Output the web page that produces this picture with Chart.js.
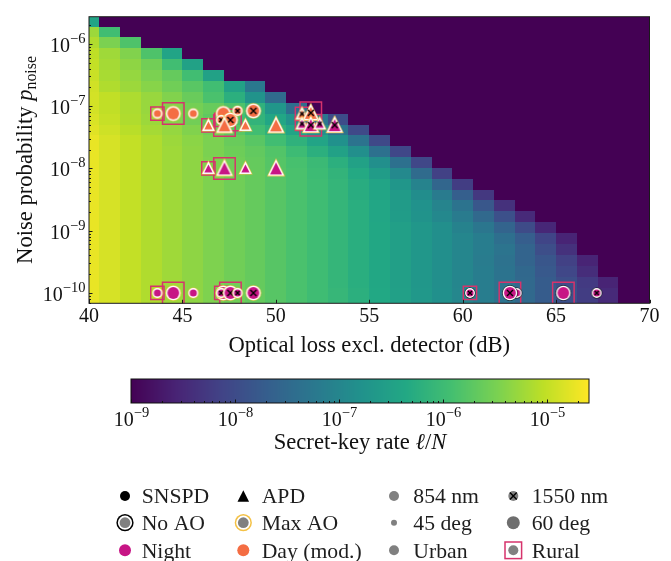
<!DOCTYPE html>
<html>
<head>
<meta charset="utf-8">
<title>Secret-key rate map</title>
<script src="https://cdn.jsdelivr.net/npm/chart.js"></script>
<style>
  html, body { margin: 0; padding: 0; background: #fff; }
  body { position: relative; width: 671px; height: 561px; overflow: hidden; }
  #mapChart { position: absolute; left: 0; top: 0; }
  #barChart { position: absolute; left: 0; top: 362px; }
</style>
</head>
<body>
<canvas id="mapChart" width="671" height="362"></canvas>
<canvas id="barChart" width="671" height="199"></canvas>
<script>
const SERIF = '"Liberation Serif", "Times New Roman", "DejaVu Serif", serif';
const NIGHT = '#c71585';
const DAY = '#f46d43';
const GOLD = '#f4c145';
const GREY = '#808080';
const RURAL = '#d6336c';
const INK = '#111';

// grid of the simulated map: column centres (dB) and row centres (log10 p_noise)
const lossDb = [40.00, 41.11, 42.22, 43.33, 44.44, 45.56, 46.67, 47.78, 48.89, 50.00,
  51.11, 52.22, 53.33, 54.44, 55.56, 56.67, 57.78, 58.89, 60.00, 61.11,
  62.22, 63.33, 64.44, 65.56, 66.67, 67.78, 68.89, 70.00];
const noiseLog = [-10.00, -9.83, -9.65, -9.48, -9.30, -9.13, -8.95, -8.78, -8.60, -8.43,
  -8.25, -8.08, -7.91, -7.73, -7.56, -7.38, -7.21, -7.03, -6.86, -6.68,
  -6.51, -6.33, -6.16, -5.98, -5.81, -5.64];

// log10 of the secret-key rate, one row per noise level (lowest noise first);
// cells past the end of a row give no key
const keyRateLog = [
  [-4.73, -4.86, -4.99, -5.12, -5.23, -5.34, -5.45, -5.56, -5.65, -5.76, -5.87, -5.98, -6.09, -6.22, -6.36, -6.51, -6.66, -6.82, -6.97, -7.15, -7.33, -7.50, -7.72, -7.94, -8.21, -8.47],
  [-4.73, -4.86, -4.99, -5.12, -5.23, -5.34, -5.45, -5.56, -5.65, -5.76, -5.87, -5.98, -6.11, -6.25, -6.38, -6.53, -6.69, -6.84, -6.99, -7.15, -7.33, -7.50, -7.72, -7.96, -8.25, -8.56],
  [-4.73, -4.86, -4.99, -5.12, -5.23, -5.34, -5.45, -5.56, -5.65, -5.76, -5.87, -5.98, -6.11, -6.25, -6.38, -6.53, -6.69, -6.84, -6.99, -7.15, -7.33, -7.52, -7.77, -8.07, -8.43],
  [-4.73, -4.86, -4.99, -5.12, -5.23, -5.34, -5.45, -5.56, -5.65, -5.76, -5.87, -5.98, -6.11, -6.25, -6.38, -6.53, -6.69, -6.84, -6.99, -7.17, -7.35, -7.59, -7.83, -8.16, -8.56],
  [-4.73, -4.86, -4.99, -5.12, -5.23, -5.34, -5.45, -5.56, -5.65, -5.76, -5.87, -5.98, -6.11, -6.25, -6.38, -6.53, -6.69, -6.84, -6.99, -7.15, -7.30, -7.59, -7.96, -8.38],
  [-4.73, -4.86, -4.99, -5.12, -5.23, -5.34, -5.45, -5.56, -5.65, -5.76, -5.87, -5.98, -6.11, -6.25, -6.38, -6.53, -6.69, -6.84, -6.99, -7.15, -7.39, -7.70, -8.10, -8.56],
  [-4.73, -4.86, -4.99, -5.12, -5.23, -5.34, -5.45, -5.56, -5.65, -5.76, -5.87, -5.98, -6.11, -6.25, -6.38, -6.53, -6.69, -6.84, -7.06, -7.28, -7.59, -8.01, -8.52],
  [-4.73, -4.86, -4.99, -5.12, -5.23, -5.34, -5.45, -5.56, -5.65, -5.76, -5.87, -5.98, -6.11, -6.25, -6.40, -6.58, -6.75, -6.95, -7.19, -7.50, -7.92, -8.47],
  [-4.73, -4.86, -4.99, -5.12, -5.23, -5.34, -5.45, -5.56, -5.65, -5.76, -5.87, -5.98, -6.11, -6.25, -6.40, -6.60, -6.77, -7.02, -7.33, -7.81, -8.38],
  [-4.73, -4.86, -4.99, -5.12, -5.23, -5.34, -5.45, -5.56, -5.65, -5.76, -5.87, -5.98, -6.11, -6.27, -6.42, -6.60, -6.86, -7.19, -7.68, -8.29],
  [-4.73, -4.86, -4.99, -5.12, -5.23, -5.34, -5.45, -5.56, -5.65, -5.76, -5.87, -5.98, -6.11, -6.27, -6.44, -6.71, -7.04, -7.55, -8.21],
  [-4.73, -4.86, -4.99, -5.12, -5.23, -5.34, -5.45, -5.56, -5.65, -5.76, -5.87, -6.00, -6.14, -6.33, -6.58, -6.93, -7.46, -8.16],
  [-4.73, -4.86, -4.99, -5.12, -5.23, -5.34, -5.45, -5.56, -5.65, -5.78, -5.89, -6.03, -6.22, -6.49, -6.84, -7.37, -8.07],
  [-4.73, -4.86, -4.99, -5.12, -5.23, -5.34, -5.47, -5.58, -5.67, -5.80, -6.00, -6.22, -6.49, -6.84, -7.37, -8.07],
  [-4.73, -4.86, -4.99, -5.12, -5.25, -5.36, -5.47, -5.61, -5.74, -5.96, -6.18, -6.44, -6.80, -7.33, -8.03],
  [-4.79, -4.92, -5.06, -5.19, -5.30, -5.43, -5.56, -5.74, -5.96, -6.18, -6.44, -6.80, -7.33, -8.03],
  [-4.84, -4.97, -5.12, -5.25, -5.41, -5.54, -5.69, -5.92, -6.14, -6.40, -6.75, -7.28, -7.99],
  [-4.88, -5.01, -5.14, -5.28, -5.41, -5.52, -5.63, -5.83, -6.18, -6.71, -7.41],
  [-4.88, -5.01, -5.14, -5.28, -5.43, -5.61, -5.87, -6.22, -6.75, -7.46],
  [-4.90, -5.12, -5.25, -5.39, -5.56, -5.74, -5.96, -6.49, -7.24],
  [-4.95, -5.17, -5.30, -5.47, -5.65, -5.96, -6.49],
  [-4.99, -5.19, -5.34, -5.54, -5.96, -6.49],
  [-5.03, -5.23, -5.43, -5.83, -6.44],
  [-5.12, -5.47, -5.83],
  [-5.25, -5.96],
  [-6.44]
];
const rateRange = [1e-9, 2.55e-5];

// link scenarios (drawing order: later ones sit on top)
const scLoss = [43.66, 44.51, 45.58, 47.19, 47.08, 47.57, 47.95, 48.80,
  43.66, 44.51, 45.58, 47.19, 47.08, 47.57, 47.95, 48.80,
  60.39, 62.89, 62.53, 65.39, 67.17,
  46.39, 47.25, 48.37, 50.01, 51.40, 51.87,
  46.39, 47.25, 48.37, 50.01, 51.40, 51.87, 52.35, 53.15];
const scNoise = [7.6e-8, 7.6e-8, 7.6e-8, 7.6e-8, 6.0e-8, 6.0e-8, 8.4e-8, 8.4e-8,
  1e-10, 1e-10, 1e-10, 1e-10, 1e-10, 1e-10, 1e-10, 1e-10,
  1e-10, 1e-10, 1e-10, 1e-10, 1e-10,
  4.9e-8, 4.9e-8, 4.9e-8, 4.9e-8, 7.5e-8, 7.8e-8,
  1e-8, 1e-8, 1e-8, 1e-8, 5.2e-8, 4.95e-8, 5.2e-8, 4.95e-8];
const scDetector = ['SNSPD', 'SNSPD', 'SNSPD', 'SNSPD', 'SNSPD', 'SNSPD', 'SNSPD', 'SNSPD',
  'SNSPD', 'SNSPD', 'SNSPD', 'SNSPD', 'SNSPD', 'SNSPD', 'SNSPD', 'SNSPD',
  'SNSPD', 'SNSPD', 'SNSPD', 'SNSPD', 'SNSPD',
  'APD', 'APD', 'APD', 'APD', 'APD', 'APD',
  'APD', 'APD', 'APD', 'APD', 'APD', 'APD', 'APD', 'APD'];
const scAO = ['max', 'max', 'max', 'max', 'max', 'max', 'max', 'max',
  'max', 'max', 'max', 'max', 'max', 'max', 'max', 'max',
  'none', 'none', 'none', 'none', 'none',
  'max', 'max', 'max', 'max', 'max', 'max',
  'max', 'max', 'max', 'max', 'max', 'max', 'max', 'max'];
const scTime = ['day', 'day', 'day', 'day', 'day', 'day', 'day', 'day',
  'night', 'night', 'night', 'night', 'night', 'night', 'night', 'night',
  'night', 'night', 'night', 'night', 'night',
  'day', 'day', 'day', 'day', 'day', 'day',
  'night', 'night', 'night', 'night', 'night', 'night', 'night', 'night'];
const scWavelength = [854, 854, 854, 854, 1550, 1550, 1550, 1550,
  854, 854, 854, 854, 1550, 1550, 1550, 1550,
  1550, 854, 1550, 854, 1550,
  854, 854, 854, 854, 1550, 1550,
  854, 854, 854, 854, 1550, 1550, 1550, 1550];
const scElevation = [45, 60, 45, 60, 45, 60, 45, 60,
  45, 60, 45, 60, 45, 60, 45, 60,
  45, 45, 60, 60, 45,
  45, 60, 45, 60, 45, 60,
  45, 60, 45, 60, 45, 60, 45, 60];
const scSite = ['rural', 'rural', 'urban', 'urban', 'rural', 'rural', 'urban', 'urban',
  'rural', 'rural', 'urban', 'urban', 'rural', 'rural', 'urban', 'urban',
  'rural', 'urban', 'rural', 'rural', 'urban',
  'rural', 'rural', 'urban', 'urban', 'rural', 'rural',
  'rural', 'rural', 'urban', 'urban', 'rural', 'rural', 'urban', 'urban'];

// legend entries, laid out in four columns
const legendRows = [
  ['SNSPD', 'APD', '854 nm', '1550 nm'],
  ['No AO', 'Max AO', '45 deg', '60 deg'],
  ['Night', 'Day (mod.)', 'Urban', 'Rural']
];

// viridis stops at t = 0, 0.1, ..., 1
const VIRIDIS = [[68, 1, 84], [72, 36, 117], [65, 68, 135], [53, 95, 141], [42, 120, 142],
  [33, 145, 140], [34, 168, 132], [68, 191, 112], [122, 209, 81], [189, 223, 38], [253, 231, 37]];

function viridis(t) {
  t = Math.min(1, Math.max(0, t)) * 10;
  const i = Math.min(9, Math.floor(t));
  const f = t - i;
  const a = VIRIDIS[i], b = VIRIDIS[i + 1];
  return `rgb(${a.map((c, k) => Math.round(c + (b[k] - c) * f)).join(',')})`;
}

function rateColor(logRate) {
  const lo = Math.log10(rateRange[0]), hi = Math.log10(rateRange[1]);
  return viridis((logRate - lo) / (hi - lo));
}

// "10" with a superscript exponent
function drawPower(ctx, exp, x, baseline, align) {
  const sup = '\u2212' + Math.abs(exp);
  ctx.font = `20px ${SERIF}`;
  const wb = ctx.measureText('10').width;
  ctx.font = `14.5px ${SERIF}`;
  const ws = ctx.measureText(sup).width;
  const x0 = align === 'right' ? x - wb - ws : x - (wb + ws) / 2;
  ctx.textAlign = 'left';
  ctx.textBaseline = 'alphabetic';
  ctx.fillStyle = INK;
  ctx.font = `20px ${SERIF}`;
  ctx.fillText('10', x0, baseline);
  ctx.font = `14.5px ${SERIF}`;
  ctx.fillText(sup, x0 + wb, baseline - 9);
}

// runs of text with their own fonts, laid out along one baseline
function drawRuns(ctx, runs, cx, baseline) {
  const widths = runs.map(r => { ctx.font = r.font; return ctx.measureText(r.text).width; });
  let u = cx - widths.reduce((s, w) => s + w, 0) / 2;
  ctx.textAlign = 'left';
  ctx.textBaseline = 'alphabetic';
  ctx.fillStyle = INK;
  runs.forEach((r, k) => {
    ctx.font = r.font;
    ctx.fillText(r.text, u, baseline + (r.shift || 0));
    u += widths[k];
  });
}

function markerImage(i) {
  const large = scElevation[i] === 60;
  const tri = scDetector[i] === 'APD';
  const core = tri ? (large ? 6.0 : 4.1) : (large ? 5.9 : 3.6);
  const cnv = document.createElement('canvas');
  const s = Math.ceil(2 * core + 16);
  cnv.width = cnv.height = s;
  const c = cnv.getContext('2d');
  c.translate(s / 2, s / 2);
  const path = new Path2D();
  if (tri) {
    path.moveTo(0, -core);
    path.lineTo(core, core);
    path.lineTo(-core, core);
    path.closePath();
  } else {
    path.arc(0, 0, core, 0, Math.PI * 2);
  }
  c.lineJoin = 'miter';
  c.lineWidth = 3.8;
  c.strokeStyle = scAO[i] === 'none' ? '#111' : GOLD;
  c.stroke(path);
  c.lineWidth = 2.7;
  c.strokeStyle = '#fff';
  c.stroke(path);
  c.fillStyle = scTime[i] === 'night' ? NIGHT : DAY;
  c.fill(path);
  if (scWavelength[i] === 1550) {
    const a = large ? 3 : 2;
    c.beginPath();
    c.moveTo(-a, -a); c.lineTo(a, a);
    c.moveTo(a, -a); c.lineTo(-a, a);
    c.lineWidth = 1.4;
    c.strokeStyle = '#000';
    c.stroke();
  }
  return cnv;
}

// small key symbol centred on (cx, cy)
function drawKeySymbol(ctx, label, cx, cy) {
  const dot = (r, color) => {
    ctx.beginPath();
    ctx.arc(cx, cy, r, 0, Math.PI * 2);
    ctx.fillStyle = color;
    ctx.fill();
  };
  ctx.save();
  switch (label) {
    case 'SNSPD': dot(5, '#000'); break;
    case 'APD':
      ctx.beginPath();
      ctx.moveTo(cx, cy - 5.8);
      ctx.lineTo(cx + 5.8, cy + 5.8);
      ctx.lineTo(cx - 5.8, cy + 5.8);
      ctx.closePath();
      ctx.fillStyle = '#000';
      ctx.fill();
      break;
    case '854 nm': case 'Urban': dot(5, GREY); break;
    case '1550 nm':
      dot(5, GREY);
      ctx.beginPath();
      ctx.moveTo(cx - 3.4, cy - 3.4); ctx.lineTo(cx + 3.4, cy + 3.4);
      ctx.moveTo(cx + 3.4, cy - 3.4); ctx.lineTo(cx - 3.4, cy + 3.4);
      ctx.lineWidth = 1.4;
      ctx.strokeStyle = '#000';
      ctx.stroke();
      break;
    case 'No AO': dot(8.6, '#000'); dot(7.1, '#fff'); dot(5.4, GREY); break;
    case 'Max AO': dot(8.6, GOLD); dot(7.1, '#fff'); dot(5.4, GREY); break;
    case '45 deg': dot(3, GREY); break;
    case '60 deg': dot(6.5, '#6e6e6e'); break;
    case 'Night': dot(6, NIGHT); break;
    case 'Day (mod.)': dot(6, DAY); break;
    case 'Rural':
      ctx.lineWidth = 1.5;
      ctx.strokeStyle = RURAL;
      ctx.strokeRect(cx - 8.3, cy - 8.3, 16.6, 16.6);
      dot(5, GREY);
      break;
  }
  ctx.restore();
}

const heatmapCells = {
  id: 'heatmapCells',
  beforeDatasetsDraw(chart) {
    const {ctx, chartArea: a, scales: {x, y}} = chart;
    const yEdge = i => i <= 0 ? y.min : i >= noiseLog.length ? y.max : Math.pow(10, (noiseLog[i - 1] + noiseLog[i]) / 2);
    const xEdge = j => j <= 0 ? x.min : j >= lossDb.length ? x.max : (lossDb[j - 1] + lossDb[j]) / 2;
    ctx.save();
    ctx.beginPath();
    ctx.rect(a.left, a.top, a.right - a.left, a.bottom - a.top);
    ctx.clip();
    noiseLog.forEach((_, i) => {
      const y0 = Math.round(y.getPixelForValue(yEdge(i)));
      const y1 = Math.round(y.getPixelForValue(yEdge(i + 1)));
      lossDb.forEach((_, j) => {
        const x0 = Math.round(x.getPixelForValue(xEdge(j)));
        const x1 = Math.round(x.getPixelForValue(xEdge(j + 1)));
        const v = keyRateLog[i][j];
        ctx.fillStyle = v === undefined ? viridis(0) : rateColor(v);
        ctx.fillRect(x0, y1, x1 - x0, y0 - y1);
      });
    });
    ctx.restore();
  }
};

const frameAndLabels = {
  id: 'frameAndLabels',
  afterDraw(chart) {
    const {ctx, chartArea: a, scales: {x, y}} = chart;
    ctx.save();
    ctx.strokeStyle = '#1a1a1a';
    ctx.lineWidth = 1;
    ctx.strokeRect(a.left, a.top, a.right - a.left, a.bottom - a.top);
    // inward ticks
    x.ticks.forEach(t => {
      const px = Math.round(x.getPixelForValue(t.value)) + 0.5;
      ctx.beginPath();
      ctx.moveTo(px, a.bottom);
      ctx.lineTo(px, a.bottom - 3.5);
      ctx.stroke();
    });
    for (let e = -11; e <= -5; e++) {
      for (let m = 1; m <= 9; m++) {
        const v = m * Math.pow(10, e);
        if (v < y.min || v > y.max) continue;
        const py = Math.round(y.getPixelForValue(v)) + 0.5;
        ctx.beginPath();
        ctx.moveTo(a.left, py);
        ctx.lineTo(a.left + (m === 1 ? 3.5 : 2), py);
        ctx.stroke();
        if (m === 1) drawPower(ctx, e, a.left - 3.5, py + 7.5, 'right');
      }
    }
    // y-axis title, rotated
    ctx.translate(31.5, (a.top + a.bottom) / 2);
    ctx.rotate(-Math.PI / 2);
    drawRuns(ctx, [
      {text: 'Noise probability ', font: `22.6px ${SERIF}`},
      {text: 'p', font: `italic 22.6px ${SERIF}`},
      {text: 'noise', font: `15.8px ${SERIF}`, shift: 4.5}
    ], 0, 0);
    ctx.restore();
  }
};

// colour bar, its log ticks, its title and the marker key underneath
const colorbarPaint = {
  id: 'colorbarPaint',
  afterDraw(chart) {
    const {ctx, chartArea: a, scales: {x}} = chart;
    ctx.save();
    for (let px = Math.floor(a.left); px < a.right; px++) {
      ctx.fillStyle = rateColor(Math.log10(x.getValueForPixel(px + 0.5)));
      ctx.fillRect(px, a.top, 1, a.bottom - a.top);
    }
    ctx.strokeStyle = '#111';
    ctx.lineWidth = 1;
    ctx.strokeRect(a.left, a.top, a.right - a.left, a.bottom - a.top);
    for (let e = -9; e <= -5; e++) {
      for (let m = 1; m <= 9; m++) {
        const v = m * Math.pow(10, e);
        if (v < x.min || v > x.max) continue;
        const px = Math.round(x.getPixelForValue(v)) + 0.5;
        ctx.beginPath();
        ctx.moveTo(px, a.bottom);
        ctx.lineTo(px, a.bottom - (m === 1 ? 3.5 : 2));
        ctx.stroke();
        if (m === 1) drawPower(ctx, e, px, a.bottom + 22.7, 'center');
      }
    }
    drawRuns(ctx, [
      {text: 'Secret-key rate ', font: `22.6px ${SERIF}`},
      {text: '\u2113', font: `italic 22.6px ${SERIF}`},
      {text: '/', font: `22.6px ${SERIF}`},
      {text: 'N', font: `italic 22.6px ${SERIF}`}
    ], (a.left + a.right) / 2, a.bottom + 45.5);

    const symbolX = [125, 243.3, 394, 513.3];
    const textX = [141.7, 261.7, 413.3, 531.7];
    const rowY = [134, 160.7, 188.3];
    ctx.font = `21.7px ${SERIF}`;
    ctx.textAlign = 'left';
    ctx.textBaseline = 'alphabetic';
    legendRows.forEach((row, r) => {
      row.forEach((label, c) => {
        drawKeySymbol(ctx, label, symbolX[c], rowY[r]);
        ctx.fillStyle = '#1e1e1e';
        ctx.fillText(label, textX[c], rowY[r] + 7.2);
      });
    });
    ctx.restore();
  }
};

const ruralIdx = scSite.map((s, i) => s === 'rural' ? i : -1).filter(i => i >= 0);

new Chart(document.getElementById('mapChart'), {
  type: 'scatter',
  data: {
    datasets: [
      {
        label: 'Scenarios',
        data: scLoss.map((l, i) => ({x: l, y: scNoise[i]})),
        pointStyle: scLoss.map((_, i) => markerImage(i)),
        pointRadius: 6,
        order: 0
      },
      {
        label: 'Rural',
        data: ruralIdx.map(i => ({x: scLoss[i], y: scNoise[i]})),
        pointStyle: 'rect',
        pointRadius: ruralIdx.map(i => scElevation[i] === 60 ? 15.2 : 9.4),
        borderColor: RURAL,
        borderWidth: 1.5,
        backgroundColor: 'rgba(0,0,0,0)',
        order: 1
      }
    ]
  },
  options: {
    responsive: false,
    animation: false,
    events: [],
    layout: {padding: {left: 0, right: 21.5, top: 15.3, bottom: 0}},
    plugins: {legend: {display: false}, tooltip: {enabled: false}},
    scales: {
      x: {
        type: 'linear',
        min: 40,
        max: 70,
        ticks: {stepSize: 5, color: INK, padding: 1, font: {family: SERIF, size: 20}},
        grid: {display: false, drawTicks: false},
        border: {display: false},
        title: {
          display: true,
          text: 'Optical loss excl. detector (dB)',
          color: INK,
          font: {family: SERIF, size: 22.6},
          padding: {top: 0, bottom: 2.6}
        },
        afterFit: s => { s.height = 58.7; }
      },
      y: {
        type: 'logarithmic',
        min: 6.82e-11,
        max: 2.73e-6,
        ticks: {display: false},
        grid: {display: false, drawTicks: false},
        border: {display: false},
        afterFit: s => { s.width = 89; }
      }
    }
  },
  plugins: [heatmapCells, frameAndLabels]
});

new Chart(document.getElementById('barChart'), {
  type: 'scatter',
  data: {datasets: []},
  options: {
    responsive: false,
    animation: false,
    events: [],
    layout: {padding: {left: 131, right: 82, top: 17, bottom: 158}},
    plugins: {legend: {display: false}, tooltip: {enabled: false}},
    scales: {
      x: {type: 'logarithmic', min: rateRange[0], max: rateRange[1], display: false},
      y: {display: false}
    }
  },
  plugins: [colorbarPaint]
});
</script>
</body>
</html>
